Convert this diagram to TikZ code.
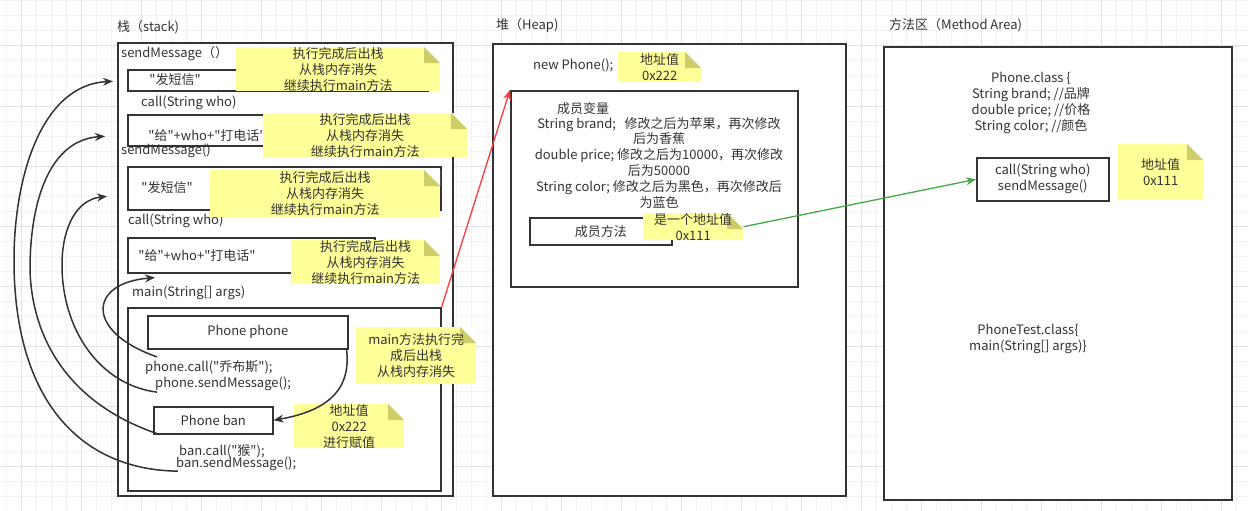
\documentclass[tikz,border=0pt]{standalone}
\usepackage{fontspec}
\setmainfont{Noto Sans CJK SC}[Ligatures=TeXOff]
\usetikzlibrary{arrows.meta,calc}
\definecolor{ink}{HTML}{333333}
\definecolor{notefill}{HTML}{FFFF99}
\definecolor{notefold}{HTML}{CDCD6A}
\definecolor{gridminor}{HTML}{F2F2F2}
\definecolor{gridmajor}{HTML}{E2E2E2}
\definecolor{refline}{HTML}{FF3B3B}
\definecolor{calline}{HTML}{44AA44}

\tikzset{
  txt/.style={text=ink, inner sep=0pt, align=center, font=\fontsize{13}{16}\selectfont},
  lbl/.style={txt, anchor=west},
  box/.style={txt, draw=ink, line width=1.6pt, fill=white},
  area/.style={box, anchor=north west},
  note/.style={txt, anchor=north west, fill=notefill,
    path picture={
      \fill[white] ([xshift=-16pt]path picture bounding box.north east)
        -- (path picture bounding box.north east)
        -- ([yshift=-16pt]path picture bounding box.north east) -- cycle;
      \fill[notefold] ([xshift=-16pt]path picture bounding box.north east)
        -- ([xshift=-16pt,yshift=-16pt]path picture bounding box.north east)
        -- ([yshift=-16pt]path picture bounding box.north east) -- cycle;
    }},
  call/.style={draw=ink, line width=1.5pt, -{Stealth[length=10pt,width=8pt]}},
}

\begin{document}
\begin{tikzpicture}[x=1pt, y=-1pt]
  \useasboundingbox (0,0) rectangle (1248,511);
  % 背景网格
  \foreach \x in {6.7,21.7,...,1248} \draw[gridminor, line width=1pt] (\x,0) -- (\x,511);
  \foreach \y in {1,16,...,511} \draw[gridminor, line width=1pt] (0,\y) -- (1248,\y);
  \foreach \x in {21.7,81.7,...,1248} \draw[gridmajor, line width=1pt] (\x,0) -- (\x,511);
  \foreach \y in {46,106,...,511} \draw[gridmajor, line width=1pt] (0,\y) -- (1248,\y);

  % 栈
  \node[lbl] (tstack) at (117,27) {栈（stack)};
  \node[area, minimum width=335, minimum height=453] (stack) at (117,42) {};
  \node[lbl] (sm1lbl) at (121,54) {sendMessage（）};
  \node[area, minimum width=300, minimum height=21] (box1) at (127,69) {};
  \node[txt] (t1) at (175,80) {"发短信"};
  \node[lbl] (c1lbl) at (141,103) {call(String who)};
  \node[area, minimum width=299, minimum height=31] (box2) at (127,114) {};
  \node[txt] (t2) at (207,136) {"给"+who+"打电话"};
  \node[lbl] (sm2lbl) at (121,151) {sendMessage()};
  \node[area, minimum width=313, minimum height=43] (box3) at (127,166) {};
  \node[txt] (t3) at (167,188) {"发短信"};
  \node[lbl] (c2lbl) at (128,221) {call(String who)};
  \node[area, minimum width=247, minimum height=35] (box4) at (127,237) {};
  \node[txt] (t4) at (197,256) {"给"+who+"打电话"};
  \node[lbl] (mainlbl) at (132,293) {main(String[] args)};
  \node[area, minimum width=313, minimum height=183] (mainbox) at (127,307) {};
  \node[area, minimum width=200, minimum height=33] (phone) at (147,315) {Phone phone};
  \node[lbl] (pcall) at (145,368) {phone.call("乔布斯");};
  \node[lbl] (psm) at (155,384) {phone.sendMessage();};
  \node[area, minimum width=119, minimum height=27] (ban) at (153,406) {Phone ban};
  \node[lbl] (bcall) at (179,451) {ban.call("猴");};
  \node[lbl] (bsm) at (176,464) {ban.sendMessage();};

  % 出栈说明
  \node[note, minimum width=204, minimum height=43] (n1) at (236,47) {执行完成后出栈\\从栈内存消失\\继续执行main方法};
  \node[note, minimum width=204, minimum height=44] (n2) at (263,113) {执行完成后出栈\\从栈内存消失\\继续执行main方法};
  \node[note, minimum width=230, minimum height=47] (n3) at (210,170) {执行完成后出栈\\从栈内存消失\\继续执行main方法};
  \node[note, minimum width=149, minimum height=42] (n4) at (291,240) {执行完成后出栈\\从栈内存消失\\继续执行main方法};
  \node[note, minimum width=110, minimum height=37] (n5) at (294,404) {地址值\\0x222\\进行赋值};
  \node[note, minimum width=120, minimum height=57] (n6) at (356,327) {main方法执行完\\成后出栈\\从栈内存消失};

  % 堆
  \node[lbl] (theap) at (496,25) {堆（Heap)};
  \node[area, minimum width=353, minimum height=452] (heap) at (492,43) {};
  \node[lbl] (newp) at (533,65) {new Phone();};
  \node[note, minimum width=83, minimum height=30] (nh) at (618,52) {地址值\\0x222};
  \node[area, minimum width=287, minimum height=196] (obj) at (510,90) {};
  \node[txt] (mv) at (583,109) {成员变量};
  \node[txt, font=\fontsize{13}{15.8}\selectfont] (fields) at (659,162.5)
    {String brand;~~~修改之后为苹果，再次修改\\后为香蕉\\double price; 修改之后为10000，再次修改\\后为50000\\String color; 修改之后为黑色，再次修改后\\为蓝色};
  \node[area, minimum width=142, minimum height=27] (mth) at (529,217) {成员方法};
  \node[note, minimum width=100, minimum height=26] (nm) at (643,213) {是一个地址值\\0x111};

  % 方法区
  \node[lbl] (tmeth) at (889,25) {方法区（Method Area)};
  \node[area, minimum width=348, minimum height=453] (marea) at (883,46) {};
  \node[txt] (pclass) at (1031,102.5) {Phone.class \{\\String brand; //品牌\\double price; //价格\\String color; //颜色};
  \node[area, minimum width=132, minimum height=43] (mbox) at (976,157) {call(String who)\\sendMessage()};
  \node[note, minimum width=85, minimum height=56] (na) at (1118,144) {地址值\\0x111};
  \node[txt] (ptclass) at (1028,339) {PhoneTest.class\{\\main(String[] args)\}};

  % 方法调用
  \draw[call] ([xshift=2pt]bsm.south west) .. controls (80,470) and (14,400) .. (14,260)
    .. controls (14,180) and (40,85) .. ([xshift=-4pt,yshift=-1pt]stack.west |- box1.west);
  \draw[call] ([xshift=7pt]ban.south west) .. controls (70,405) and (32,340) .. (30,270)
    .. controls (30,200) and (50,140) .. ([xshift=-12pt,yshift=-6pt]stack.west |- box2.west);
  \draw[call] ([xshift=2pt,yshift=-1pt]psm.south west) .. controls (100,385) and (62,330) .. (62,265)
    .. controls (62,230) and (75,200) .. ([xshift=-10pt,yshift=-8pt]stack.west |- box3.west);
  \draw[call] ([xshift=12pt,yshift=4pt]pcall.north west) .. controls (85,332) and (88,283) .. ([xshift=28pt,yshift=-4pt]box4.south west);
  \draw[call] ([xshift=-2pt]phone.south east) .. controls (352,395) and (320,412) .. (ban.east);
  % 地址引用
  \draw[refline, line width=1.3pt, -{Stealth[length=10pt,width=8pt]}] (mainbox.north east) -- (obj.north west);
  \draw[calline, line width=1.3pt, -{Stealth[length=10pt,width=8pt]}] (nm.east) -- (mbox.west);
\end{tikzpicture}
\end{document}
